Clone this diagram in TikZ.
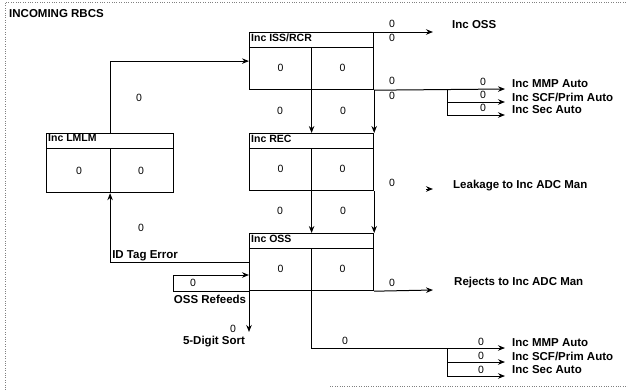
\documentclass[tikz,border=0pt]{standalone}
\usepackage{fontspec}
\setmainfont{Liberation Sans}
\usetikzlibrary{arrows.meta,positioning}

\begin{document}
\begin{tikzpicture}[
    x=1pt, y=-1pt,
    unit/.style={rectangle, draw, line width=1.2pt, minimum width=124pt, minimum height=57pt, inner sep=0pt, anchor=north west},
    head/.style={inner sep=1pt, anchor=north west, font=\bfseries\fontsize{10.5}{12}\selectfont},
    num/.style={inner sep=1pt, font=\fontsize{10.5}{12}\selectfont},
    lbl/.style={inner sep=1pt, anchor=west, font=\bfseries\fontsize{11.5}{13}\selectfont},
    arrow/.style={-{Stealth[length=7pt, width=5.5pt]}, line width=1pt}
]
\useasboundingbox (0,0) rectangle (628,391);

% Frame and title
\draw[gray, dotted] (628,2) -- (5,2) -- (5,391);
\draw[gray, dotted] (330,386) -- (628,386);
\node[lbl] (title) at (8,14) {INCOMING RBCS};

% Units
\node[unit] (iss) at (249,32) {};
\node[unit] (rec) at (249,133) {};
\node[unit] (oss) at (249,233) {};
\node[unit, minimum width=127pt, minimum height=59pt] (lmlm) at (46,133) {};

% Headers and counts
\foreach \b/\t in {iss/{Inc ISS/RCR}, rec/{Inc REC}, oss/{Inc OSS}, lmlm/{Inc LMLM}} {
    \draw[line width=1pt] ([yshift=-15pt]\b.north west) -- ([yshift=-15pt]\b.north east);
    \draw[line width=1pt] ([yshift=-15pt]\b.north) -- (\b.south);
    \node[head, below right=0.5pt and 1pt of \b.north west] (\b-h) {\t};
    \node[num] (\b-l) at ([xshift=-31pt, yshift=22pt]\b.south) {0};
    \node[num] (\b-r) at ([xshift=31pt, yshift=22pt]\b.south) {0};
}

% LMLM to ISS/RCR
\draw[arrow] (lmlm.north) |- (iss.west);
\node[num] (n-lmlm) at (139,98) {0};

% ISS/RCR to REC, REC to OSS
\draw[arrow] (iss.south) -- (rec.north);
\draw[arrow] (iss.south east) -- (rec.north east);
\node[num] (n-ir1) at (280,111) {0};
\node[num] (n-ir2) at (343,111) {0};
\draw[arrow] (rec.south) -- (oss.north);
\draw[arrow] (rec.south east) -- (oss.north east);
\node[num] (n-ro1) at (280,211) {0};
\node[num] (n-ro2) at (343,211) {0};

% ID tag error back to LMLM
\coordinate (idc) at (lmlm.south |- oss.west);
\draw[arrow] (oss.west) -| (lmlm.south);
\node[num] (n-id) at (141,228) {0};
\node[lbl, above right=0pt and 1pt of idc, anchor=south west] (idtag) {ID Tag Error};

% OSS refeeds
\coordinate (refd) at (173,275);
\draw[arrow] (oss.south west) -| (refd) -- (refd -| oss.west);
\node[num] (n-ref) at (193,283) {0};
\node[lbl, anchor=center] (refeed) at (210,299) {OSS Refeeds};

% 5-digit sort
\coordinate (sort) at (249,332);
\draw[arrow] (oss.south west) -- (sort);
\node[num] (n-sort) at (233,329) {0};
\node[lbl, anchor=center] (sortl) at (214,342) {5-Digit Sort};

% ISS/RCR outputs
\coordinate (ossout) at (433,32);
\draw[arrow] (iss.north east) -- (ossout);
\node[num] (n-o1) at (392,24) {0};
\node[num] (n-o2) at (392,38) {0};
\node[lbl] (ossl) at (451,25) {Inc OSS};

\coordinate (sp1) at (447,89);
\coordinate (mmp1) at (505,89);
\coordinate (scf1) at (505,102);
\coordinate (sec1) at (505,115);
\draw[arrow] (iss.south east) -- (mmp1);
\draw[arrow] (sp1) |- (scf1);
\draw[arrow] (sp1) |- (sec1);
\node[num] (n-a1) at (392,81) {0};
\node[num] (n-a2) at (392,96) {0};
\node[num] (n-m1) at (483,82) {0};
\node[num] (n-s1) at (483,95) {0};
\node[num] (n-c1) at (483,108) {0};
\node[lbl] (mmpl1) at (511,84) {Inc MMP Auto};
\node[lbl] (scfl1) at (511,97) {Inc SCF/Prim Auto};
\node[lbl] (secl1) at (511,110) {Inc Sec Auto};

% REC leakage
\coordinate (lkst) at (426,189);
\coordinate (lk) at (433,189);
\draw[arrow] (lkst) -- (lk);
\node[num] (n-lk) at (392,183) {0};
\node[lbl] (leak) at (452,186) {Leakage to Inc ADC Man};

% OSS rejects
\coordinate (rej) at (433,290);
\draw[arrow] (oss.south east) -- (rej);
\node[num] (n-rej) at (392,283) {0};
\node[lbl] (rejl) at (453,283) {Rejects to Inc ADC Man};

% OSS outputs
\coordinate (sp2) at (447,348);
\coordinate (mmp2) at (505,348);
\coordinate (scf2) at (505,362);
\coordinate (sec2) at (505,376);
\draw[arrow] (oss.south) |- (mmp2);
\draw[arrow] (sp2) |- (scf2);
\draw[arrow] (sp2) |- (sec2);
\node[num] (n-b1) at (345,341) {0};
\node[num] (n-m2) at (481,342) {0};
\node[num] (n-s2) at (481,356) {0};
\node[num] (n-c2) at (481,370) {0};
\node[lbl] (mmpl2) at (511,343) {Inc MMP Auto};
\node[lbl] (scfl2) at (511,356) {Inc SCF/Prim Auto};
\node[lbl] (secl2) at (511,370) {Inc Sec Auto};

\end{tikzpicture}
\end{document}
